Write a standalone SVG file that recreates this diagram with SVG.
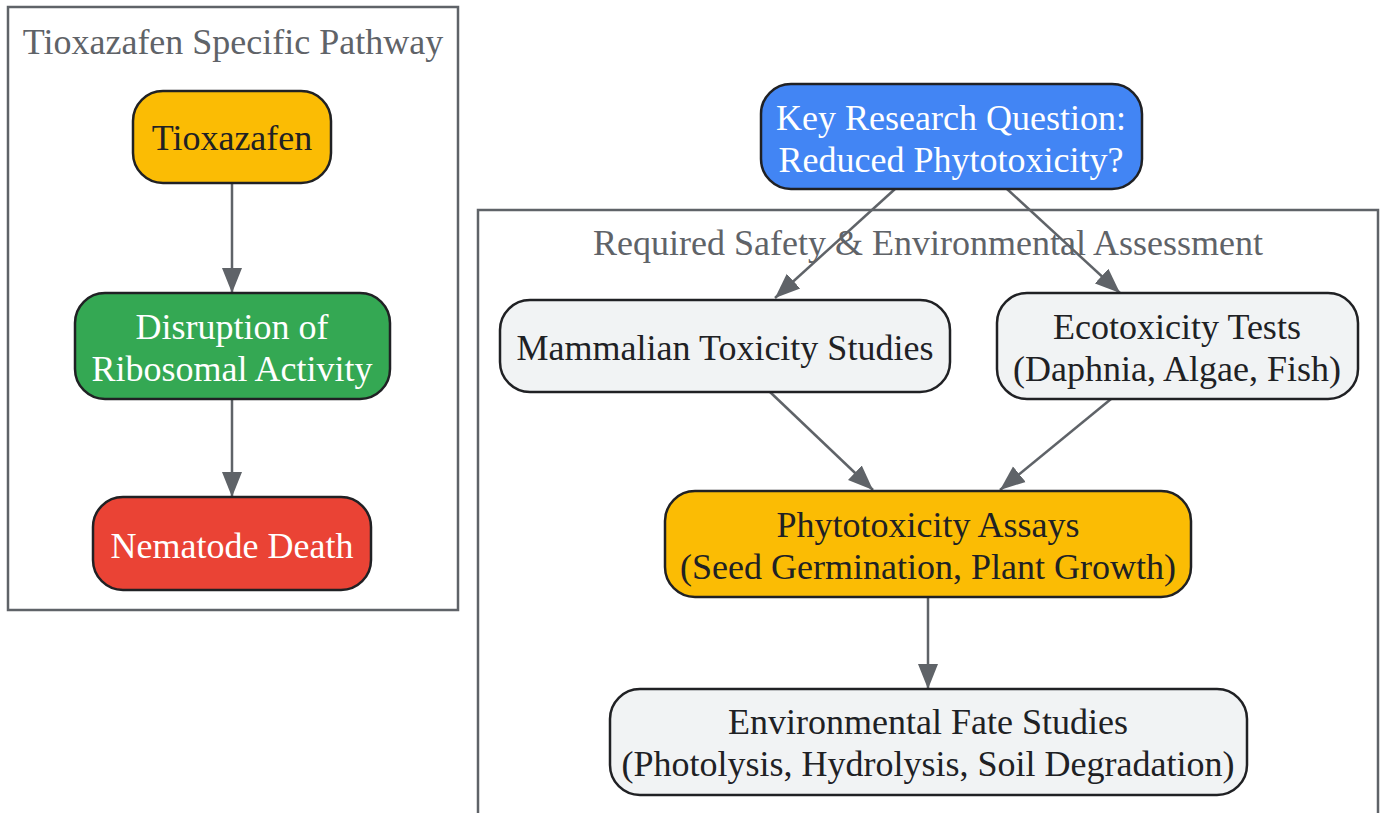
<svg xmlns="http://www.w3.org/2000/svg" width="1383" height="813" viewBox="0 0 1383 813">
<style>
.cluster{fill:#ffffff;stroke:#5f6368;stroke-width:2.5}
.ctitle{font-family:"Liberation Serif","Times New Roman",serif;font-size:36px;fill:#5f6368;text-anchor:middle}
.node{stroke:#202124;stroke-width:2.5}
.t{font-family:"Liberation Serif","Times New Roman",serif;font-size:36px;text-anchor:middle}
.dark{fill:#202124}
.light{fill:#ffffff}
.edge{fill:none;stroke:#5f6368;stroke-width:2.5}
</style>
<defs>
<marker id="arr" markerUnits="userSpaceOnUse" markerWidth="26" markerHeight="22" refX="25" refY="11" orient="auto">
<path d="M0,1 L25,11 L0,21 z" fill="#5f6368"/>
</marker>
</defs>
<rect width="1383" height="813" fill="#ffffff"/>
<g id="cluster_pathway">
<rect class="cluster" x="8" y="7" width="450" height="603"/>
<text class="ctitle" x="233" y="54">Tioxazafen Specific Pathway</text>
</g>
<g id="cluster_assessment">
<rect class="cluster" x="478" y="210" width="900" height="620"/>
<text class="ctitle" x="928" y="255">Required Safety &amp; Environmental Assessment</text>
</g>
<g id="edges">
<line class="edge" x1="232" y1="183" x2="232" y2="293" marker-end="url(#arr)"/>
<line class="edge" x1="232" y1="399" x2="232" y2="497" marker-end="url(#arr)"/>
<line class="edge" x1="895" y1="189" x2="775" y2="298" marker-end="url(#arr)"/>
<line class="edge" x1="1007" y1="189" x2="1120" y2="293" marker-end="url(#arr)"/>
<line class="edge" x1="770" y1="392" x2="873" y2="490" marker-end="url(#arr)"/>
<line class="edge" x1="1111" y1="399" x2="1000" y2="490" marker-end="url(#arr)"/>
<line class="edge" x1="928" y1="597" x2="928" y2="689" marker-end="url(#arr)"/>
</g>
<g id="tioxazafen">
<rect class="node" x="133" y="91" width="198" height="92" rx="30" fill="#fbbc04"/>
<text class="t dark" x="232" y="150">Tioxazafen</text>
</g>
<g id="disruption">
<rect class="node" x="75" y="293" width="315" height="106" rx="30" fill="#34a853"/>
<text class="t light" x="232" y="339">Disruption of</text>
<text class="t light" x="232" y="381">Ribosomal Activity</text>
</g>
<g id="nematode_death">
<rect class="node" x="93" y="497" width="278" height="93" rx="30" fill="#ea4335"/>
<text class="t light" x="232" y="558">Nematode Death</text>
</g>
<g id="key_question">
<rect class="node" x="761" y="84" width="381" height="105" rx="30" fill="#4285f4"/>
<text class="t light" x="951" y="130">Key Research Question:</text>
<text class="t light" x="951" y="172">Reduced Phytotoxicity?</text>
</g>
<g id="mammalian">
<rect class="node" x="500" y="300" width="450" height="92" rx="30" fill="#f1f3f4"/>
<text class="t dark" x="725" y="360">Mammalian Toxicity Studies</text>
</g>
<g id="ecotoxicity">
<rect class="node" x="997" y="293" width="361" height="106" rx="30" fill="#f1f3f4"/>
<text class="t dark" x="1177" y="339">Ecotoxicity Tests</text>
<text class="t dark" x="1177" y="381">(Daphnia, Algae, Fish)</text>
</g>
<g id="phytotoxicity">
<rect class="node" x="665" y="491" width="526" height="106" rx="30" fill="#fbbc04"/>
<text class="t dark" x="928" y="537">Phytotoxicity Assays</text>
<text class="t dark" x="928" y="579">(Seed Germination, Plant Growth)</text>
</g>
<g id="env_fate">
<rect class="node" x="610" y="689" width="637" height="106" rx="30" fill="#f1f3f4"/>
<text class="t dark" x="928" y="734">Environmental Fate Studies</text>
<text class="t dark" x="928" y="776">(Photolysis, Hydrolysis, Soil Degradation)</text>
</g>
</svg>
